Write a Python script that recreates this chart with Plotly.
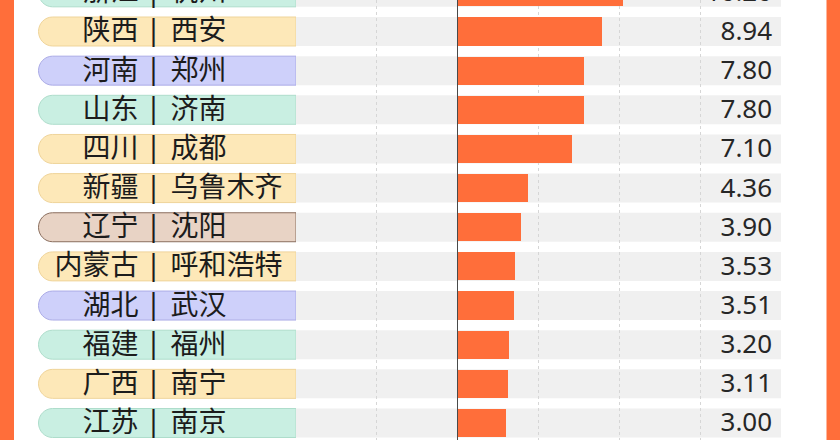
import plotly.graph_objects as go

# ---- data ----
provinces = ["浙江", "陕西", "河南", "山东", "四川", "新疆", "辽宁", "内蒙古", "湖北", "福建", "广西", "江苏"]
cities = ["杭州", "西安", "郑州", "济南", "成都", "乌鲁木齐", "沈阳", "呼和浩特", "武汉", "福州", "南宁", "南京"]
values = [10.20, 8.94, 7.80, 7.80, 7.10, 4.36, 3.90, 3.53, 3.51, 3.20, 3.11, 3.00]
tag_kind = ["teal", "yellow", "lavender", "teal", "yellow", "yellow", "brown", "yellow", "lavender", "teal", "yellow", "teal"]

# ---- styles ----
W, H = 840, 440
ORANGE = "#FF6E3A"
BAND = "#F0F0F0"
TAG_FILL = {"teal": "#C9EFE2", "yellow": "#FDE8B8", "lavender": "#CED0FA", "brown": "#E8D3C5"}
TAG_LINE = {"teal": "#AEDDCB", "yellow": "#EFD49A", "lavender": "#ABABE6", "brown": "#8A6E5E"}
BAR_W = 0.72
BAND_W = 0.74
X_RANGE = [-10, 20]
LABEL_COL_W = 258          # width of label column (x2 units = px)
TAG_RADIUS = 14            # px
PROV_END, SEP_X, CITY_START = 100.5, 115.5, 132.5
LABEL_DY = 0.05            # small downward nudge for CJK labels (row units)
SEP_DY = 0.03
VALUE_X = 19.45

idx = list(range(len(provinces)))
idx_lab = [i + LABEL_DY for i in idx]
idx_sep = [i + SEP_DY for i in idx]

fig = go.Figure()

# orange bars
fig.add_trace(go.Bar(
    x=values, y=idx, orientation="h", width=BAR_W,
    marker=dict(color=ORANGE, line=dict(width=0)),
    xaxis="x", yaxis="y", hoverinfo="skip", showlegend=False,
))

# value labels
fig.add_trace(go.Scatter(
    x=[VALUE_X] * len(values), y=idx_lab, mode="text",
    text=[f"{v:.2f}" for v in values], textposition="middle left",
    textfont=dict(family="Noto Sans", size=26, color="#262626"),
    xaxis="x", yaxis="y", cliponaxis=True, hoverinfo="skip", showlegend=False,
))

# province / separator / city labels in the tag column
fig.add_trace(go.Scatter(
    x=[PROV_END] * len(idx), y=idx_lab, mode="text", text=provinces,
    textposition="middle left",
    textfont=dict(family="Noto Sans CJK SC", size=28, color="#1c1c1c"),
    xaxis="x2", yaxis="y", cliponaxis=True, hoverinfo="skip", showlegend=False,
))
fig.add_trace(go.Scatter(
    x=[SEP_X] * len(idx), y=idx_sep, mode="text", text=["|"] * len(idx),
    textposition="middle center",
    textfont=dict(family="Noto Sans", size=29, color="#1c1c1c"),
    xaxis="x2", yaxis="y", cliponaxis=True, hoverinfo="skip", showlegend=False,
))
fig.add_trace(go.Scatter(
    x=[CITY_START] * len(idx), y=idx_lab, mode="text", text=cities,
    textposition="middle right",
    textfont=dict(family="Noto Sans CJK SC", size=28, color="#1c1c1c"),
    xaxis="x2", yaxis="y", cliponaxis=True, hoverinfo="skip", showlegend=False,
))

shapes = []
# orange side strips
shapes.append(dict(type="rect", xref="paper", yref="paper", x0=0, x1=14 / W, y0=0, y1=1,
                   fillcolor=ORANGE, line=dict(width=0), layer="above"))
shapes.append(dict(type="rect", xref="paper", yref="paper", x0=826.5 / W, x1=1, y0=0, y1=1,
                   fillcolor=ORANGE, line=dict(width=0), layer="above"))

k = 0.5523
h = BAND_W / 2
for i, kind in zip(idx, tag_kind):
    # grey band behind each bar
    shapes.append(dict(type="rect", xref="x", yref="y", x0=X_RANGE[0], x1=X_RANGE[1],
                       y0=i - h, y1=i + h, fillcolor=BAND, line=dict(width=0), layer="below"))
    # tag pill with rounded left end
    xl, xr, xa = 0.5, LABEL_COL_W, 0.5 + TAG_RADIUS
    yt, yb = i - h, i + h
    path = (f"M {xr},{yt} L {xa},{yt} "
            f"C {xa - k * TAG_RADIUS},{yt} {xl},{i - k * h} {xl},{i} "
            f"C {xl},{i + k * h} {xa - k * TAG_RADIUS},{yb} {xa},{yb} "
            f"L {xr},{yb} Z")
    shapes.append(dict(type="path", xref="x2", yref="y", path=path,
                       fillcolor=TAG_FILL[kind], line=dict(color=TAG_LINE[kind], width=1),
                       layer="below"))

top = 7.65 / 39.15
bottom = (H + 7.65) / 39.15

fig.update_layout(
    width=W, height=H,
    margin=dict(l=0, r=0, t=0, b=0),
    paper_bgcolor="white", plot_bgcolor="rgba(0,0,0,0)",
    bargap=0, barmode="overlay",
    shapes=shapes,
    xaxis=dict(domain=[296 / W, 781 / W], range=X_RANGE, dtick=5, tick0=0,
               showgrid=True, gridcolor="#D6D6D6", griddash="dot", gridwidth=1,
               zeroline=True, zerolinecolor="#4A4A4A", zerolinewidth=1,
               showticklabels=False, ticks="", showline=False, fixedrange=True),
    xaxis2=dict(domain=[38 / W, 296 / W], range=[0, LABEL_COL_W], anchor="y",
                visible=False, fixedrange=True),
    yaxis=dict(range=[bottom, top], domain=[0, 1], visible=False, fixedrange=True),
)

fig.write_html("out.html", config={"displayModeBar": False},
               post_script="document.body.style.margin='0';document.body.style.overflow='hidden';")
